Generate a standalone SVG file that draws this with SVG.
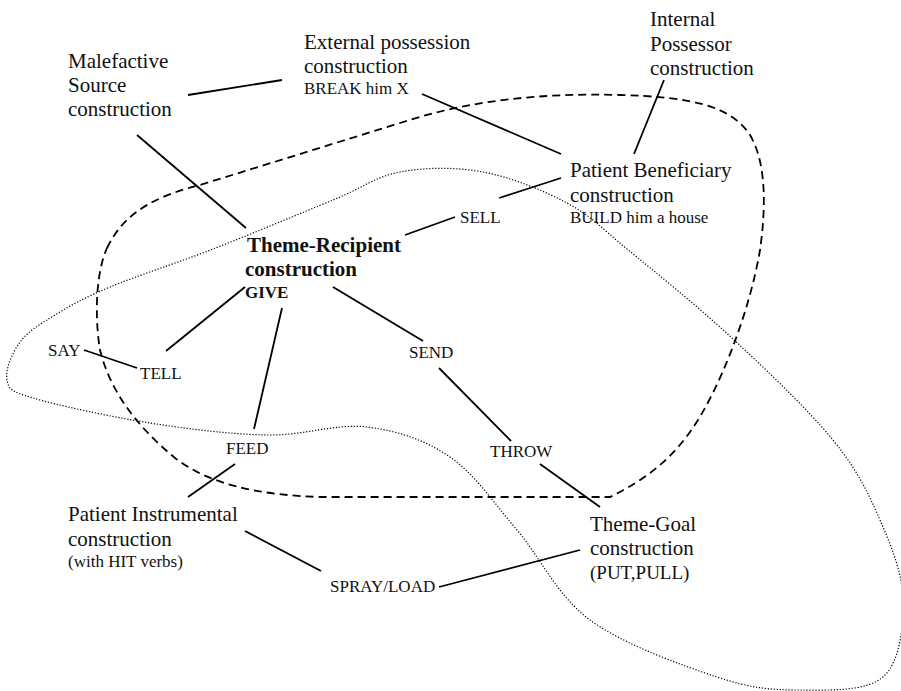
<svg xmlns="http://www.w3.org/2000/svg" width="901" height="691" viewBox="0 0 901 691">
<style>
text{font-family:"Liberation Serif","Times New Roman",serif;fill:#111}
.L{font-size:21px}
.S{font-size:17px}
.M{font-size:19px}
.B{font-weight:bold}
.ln{stroke:#000;stroke-width:1.8;fill:none}
.dash{stroke:#000;stroke-width:1.8;fill:none;stroke-dasharray:8 5}
.dot{stroke:#000;stroke-width:1.2;fill:none;stroke-dasharray:1.2 1.8}
</style>
<rect width="901" height="691" fill="#fff"/>
<g id="regions">
<path class="dash" d="M107,248 C120,222 140,200 200,185 L400,123 C470,100 540,93 620,95 C690,97 730,105 750,135 C768,165 765,215 760,250 C750,310 720,390 690,432 C670,460 645,480 610,497 L320,497 C260,495 210,485 175,458 C135,425 110,390 100,350 C95,320 95,275 107,248 Z"/>
<path class="dot" d="M7,380 C4.8,370.7 12,352.8 20,342 C28,331.2 40,324.2 55,315 C70,305.8 83.7,298 110,287 C136.3,276 175.8,263.5 213,249 C250.2,234.5 301.8,212.8 333,200 C364.2,187.2 375,176.7 400,172 C425,167.3 455.2,166.8 483,172 C510.8,177.2 543,190.2 567,203 C591,215.8 599.5,226.5 627,249 C654.5,271.5 697.7,306.2 732,338 C766.3,369.8 808.3,409.7 833,440 C857.7,470.3 868.3,493.3 880,520 C891.7,546.7 902.5,573.8 903,600 C903.5,626.2 900.2,662 883,677 C865.8,692 827.7,690 800,690 C772.3,690 752,688.7 717,677 C682,665.3 623.3,644.5 590,620 C556.7,595.5 540.3,557.2 517,530 C493.7,502.8 475,474.2 450,457 C425,439.8 397.5,430.7 367,427 C336.5,423.3 303.2,435.7 267,435 C230.8,434.3 189,429.2 150,423 C111,416.8 56.8,405.2 33,398 C9.2,390.8 9.2,389.3 7,380 Z"/>
</g>
<g id="connectors">
<line class="ln" x1="188" y1="95" x2="282" y2="80"/>
<line class="ln" x1="422" y1="94" x2="561" y2="154"/>
<line class="ln" x1="664" y1="80" x2="634" y2="154"/>
<line class="ln" x1="499" y1="198" x2="561" y2="178"/>
<line class="ln" x1="405" y1="235" x2="455" y2="217"/>
<line class="ln" x1="137" y1="135" x2="246" y2="228"/>
<line class="ln" x1="245" y1="287" x2="166" y2="351"/>
<line class="ln" x1="282" y1="308" x2="254" y2="429"/>
<line class="ln" x1="333" y1="287" x2="423" y2="341"/>
<line class="ln" x1="84" y1="350" x2="137" y2="368"/>
<line class="ln" x1="235" y1="464" x2="188" y2="497"/>
<line class="ln" x1="439" y1="368" x2="511" y2="441"/>
<line class="ln" x1="540" y1="464" x2="600" y2="507"/>
<line class="ln" x1="245" y1="531" x2="321" y2="571"/>
<line class="ln" x1="439" y1="587" x2="580" y2="550"/>
</g>
<g id="malefactive"><text class="L" x="68" y="68">Malefactive</text><text class="L" x="68" y="92">Source</text><text class="L" x="68" y="116">construction</text></g>
<g id="external"><text class="L" x="304" y="49">External possession</text><text class="L" x="304" y="73">construction</text><text class="S" x="304" y="94">BREAK him X</text></g>
<g id="internal"><text class="L" x="650" y="26">Internal</text><text class="L" x="650" y="51">Possessor</text><text class="L" x="650" y="75">construction</text></g>
<g id="patient-beneficiary"><text class="L" x="570" y="177">Patient Beneficiary</text><text class="L" x="570" y="202">construction</text><text class="S" x="570" y="223">BUILD him a house</text></g>
<g id="sell"><text class="S" x="460" y="223">SELL</text></g>
<g id="theme-recipient"><text class="L B" x="247" y="252">Theme-Recipient</text><text class="L B" x="245" y="276">construction</text><text class="S B" x="245" y="298">GIVE</text></g>
<g id="say"><text class="S" x="48" y="356">SAY</text></g>
<g id="tell"><text class="S" x="140" y="379">TELL</text></g>
<g id="send"><text class="S" x="409" y="358">SEND</text></g>
<g id="feed"><text class="S" x="226" y="454">FEED</text></g>
<g id="throw"><text class="S" x="490" y="457">THROW</text></g>
<g id="patient-instrumental"><text class="L" x="68" y="521">Patient Instrumental</text><text class="L" x="68" y="546">construction</text><text class="S" x="68" y="567">(with HIT verbs)</text></g>
<g id="spray-load"><text class="S" x="330" y="592">SPRAY/LOAD</text></g>
<g id="theme-goal"><text class="L" x="590" y="531">Theme-Goal</text><text class="L" x="590" y="555">construction</text><text class="M" x="590" y="579">(PUT,PULL)</text></g>
</svg>
